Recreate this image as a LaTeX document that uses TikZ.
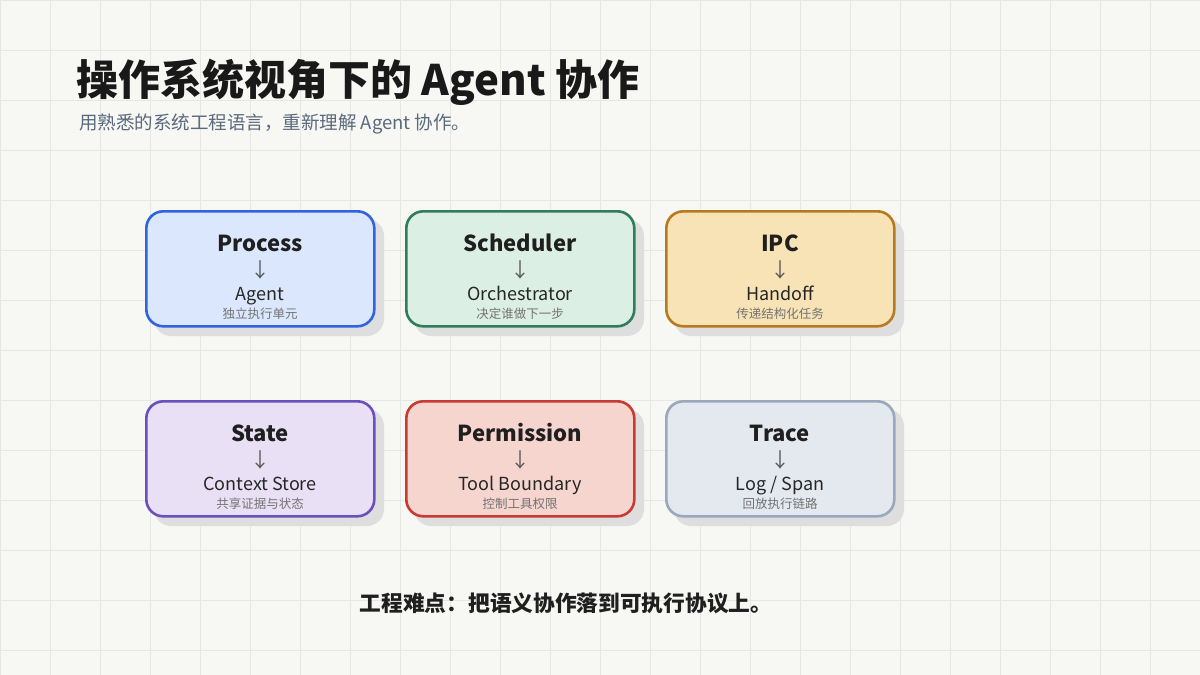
\documentclass[tikz,border=0pt]{standalone}
\usepackage{fontspec}
\setmainfont{Noto Sans CJK SC}
\begin{document}
\begin{tikzpicture}[x=1pt,y=-1pt,
  card/.style={draw, line width=2.6pt, rounded corners=17pt, minimum width=228pt, minimum height=115pt, anchor=north west},
  shadow/.style={fill=black!13, rounded corners=17pt},
  hd/.style={anchor=base, font=\fontsize{22}{24}\selectfont\bfseries, text=black!88},
  ar/.style={font=\fontsize{20}{22}\selectfont, text=black!65},
  en/.style={anchor=base, font=\fontsize{18}{20}\selectfont, text=black!85},
  cn/.style={anchor=base, font=\fontsize{12.5}{14}\selectfont, text=black!55}]
\definecolor{bg}{HTML}{F7F7F3}
\definecolor{gr}{HTML}{E6E6E2}
\fill[bg] (0,0) rectangle (1200,675);
\useasboundingbox (0,0) rectangle (1200,675);
\foreach \x in {0,50,...,1200} \draw[gr, line width=0.8pt] (\x,0) -- (\x,675);
\foreach \y in {0,50,...,650} \draw[gr, line width=0.8pt] (0,\y) -- (1200,\y);
\node[anchor=west, font=\fontsize{42}{46}\selectfont\bfseries, text=black!90, inner sep=0] (title) at (76,82) {操作系统视角下的 Agent 协作};
\node[anchor=west, font=\fontsize{18.5}{20}\selectfont, text={rgb,255:red,90;green,105;blue,125}, inner sep=0] (sub) at (79,124) {用熟悉的系统工程语言，重新理解 Agent 协作。};
\foreach \n/\x/\y/\bc/\fc/\h/\e/\c in {
 p/146/211/2F63E0/DBE7FD/Process/Agent/独立执行单元,
 s/406/211/2E7D5B/DCEFE5/Scheduler/Orchestrator/决定谁做下一步,
 i/666/211/B87A1E/F7E3B5/IPC/Handoff/传递结构化任务,
 t/146/401/6B4FBF/E9E0F5/State/Context Store/共享证据与状态,
 m/406/401/C83A32/F6D5CE/Permission/Tool Boundary/控制工具权限,
 r/666/401/9AA8BD/E4E8EF/Trace/{Log / Span}/回放执行链路}{
  \definecolor{b\n}{HTML}{\bc}\definecolor{f\n}{HTML}{\fc}
  \fill[shadow] (\x+8,\y+8) rectangle ++(230,117);
  \node[card, draw=b\n, fill=f\n] (\n) at (\x-1,\y-1) {};
  \node[hd] (\n h) at (\x+114,\y+40) {\h};
  \node[ar] (\n a) at (\x+114,\y+59) {↓};
  \node[en] (\n e) at (\x+114,\y+89) {\e};
  \node[cn] (\n c) at (\x+114,\y+107) {\c};
}
\node[font=\fontsize{21.7}{24}\selectfont\bfseries, text=black!88] (foot) at (566,603) {工程难点：把语义协作落到可执行协议上。};
\end{tikzpicture}
\end{document}
